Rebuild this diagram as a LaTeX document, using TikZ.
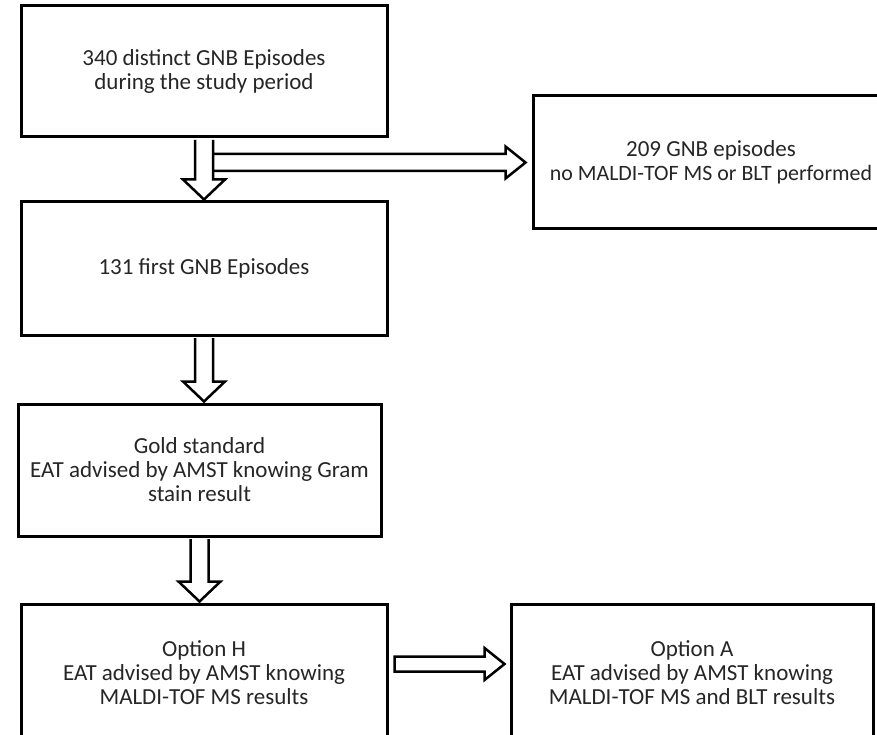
\documentclass[tikz,border=0pt]{standalone}
\usepackage{fontspec}
\setmainfont{Carlito}
\usetikzlibrary{calc}
\definecolor{txt}{HTML}{262626}
\tikzset{
  box/.style={draw=black, line width=3pt, fill=white, rectangle, align=center,
    inner sep=0pt, text=txt, font=\fontsize{23}{24}\selectfont},
  blockarrow/.style={draw=black, line width=2.5pt, fill=white, line join=miter},
}
\begin{document}
\begin{tikzpicture}[x=1pt, y=-1pt]
\useasboundingbox (0,0) rectangle (877,735);
\begin{scope}
\clip (0,0) rectangle (877,735);
\node[box, minimum width=366pt, minimum height=131pt] (b1) at (204,71.5)
  {340 distinct GNB Episodes\\during the study period};
\node[box, minimum width=366pt, minimum height=133pt] (b2) at (204,268.5)
  {131 first GNB Episodes};
\node[box, minimum width=363pt, minimum height=132pt] (b3) at (199.5,470)
  {Gold standard\\EAT advised by AMST knowing Gram\\stain result};
\node[box, minimum width=366pt, minimum height=137pt] (b4) at (204,672.5)
  {Option H\\EAT advised by AMST knowing\\MALDI-TOF MS results};
\node[box, minimum width=362pt, minimum height=137pt] (b5) at (692,672.5)
  {Option A\\EAT advised by AMST knowing\\MALDI-TOF MS and BLT results};
\node[box, minimum width=356pt, minimum height=133pt] (b6) at (711,162.5)
  {209 GNB episodes\\{\fontsize{21.9}{24}\selectfont no MALDI-TOF MS or BLT performed}};

% horizontal arrow b1 -> b6 (drawn first, its left end lies on the shaft)
\draw[blockarrow] let \p1=(b1.south), \p2=(b6.west) in
  (\x1+9pt,\y2+8.5pt) -- (\x2-26pt,\y2+8.5pt) -- (\x2-26pt,\y2+16pt)
  -- (\x2-6pt,\y2) -- (\x2-26pt,\y2-16pt) -- (\x2-26pt,\y2-8.5pt)
  -- (\x1+9pt,\y2-8.5pt);

% vertical arrows
\foreach \a/\b in {b1/b2, b2/b3, b3/b4}{
  \draw[blockarrow] let \p1=(\a.south), \p2=(\b.north) in
    (\x1-9pt,\y1-1.5pt) -- (\x1-9pt,\y2+21pt) -- (\x1-21pt,\y2+21pt)
    -- (\x1,\y2+1pt) -- (\x1+21pt,\y2+21pt) -- (\x1+9pt,\y2+21pt)
    -- (\x1+9pt,\y1-1.5pt);
}

% horizontal arrow b4 -> b5
\draw[blockarrow] let \p1=(b4.east), \p2=(b5.west) in
  (\x1+6pt,\y1+1pt) -- (\x1+6pt,\y1+16pt) -- (\x2-25pt,\y1+16pt)
  -- (\x2-25pt,\y1+24.5pt) -- (\x2-5pt,\y1+8.5pt) -- (\x2-25pt,\y1-7.5pt)
  -- (\x2-25pt,\y1+1pt) -- cycle;
\end{scope}
\end{tikzpicture}
\end{document}
